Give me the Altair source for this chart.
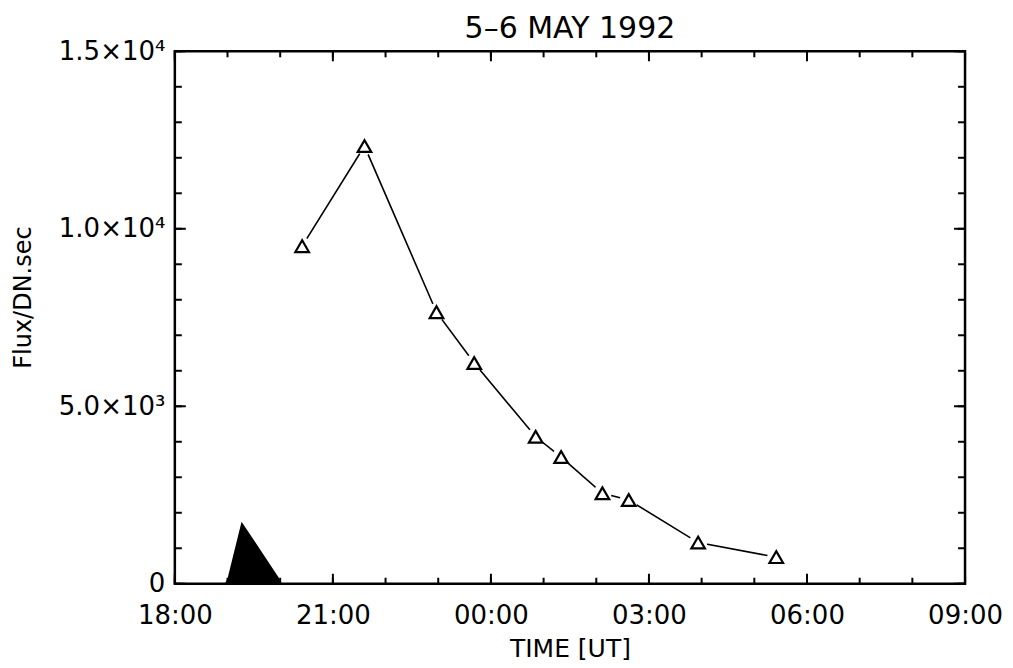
import altair as alt
import pandas as pd

# ---- data ----
obs_times = ["20:25", "21:36", "22:58", "23:41", "00:51", "01:20", "02:07", "02:37", "03:56", "05:25"]
obs_flux = [9510, 12330, 7650, 6220, 4140, 3570, 2550, 2360, 1160, 750]

burst_times = ["18:57", "19:00", "19:16", "19:59", "20:00"]
burst_flux = [0, 150, 1750, 150, 0]

x_tick_hours = [0, 3, 6, 9, 12, 15]
x_tick_labels = ["18:00", "21:00", "00:00", "03:00", "06:00", "09:00"]
x_minor_hours = list(range(0, 16))
y_tick_values = [0, 5000, 10000, 15000]
y_tick_labels = ["0", "5.0×10³", "1.0×10⁴", "1.5×10⁴"]
y_minor_values = list(range(0, 15001, 1000))


def hours_since_18(t):
    h, m = t.split(":")
    v = int(h) + int(m) / 60.0
    if v < 12:
        v += 24
    return v - 18


obs = pd.DataFrame({"t": [hours_since_18(t) for t in obs_times], "flux": obs_flux})
burst = pd.DataFrame({"t": [hours_since_18(t) for t in burst_times], "flux": burst_flux})
xmaj = pd.DataFrame({"t": x_tick_hours})
xmin = pd.DataFrame({"t": x_minor_hours})
ymaj = pd.DataFrame({"v": y_tick_values})
ymin = pd.DataFrame({"v": y_minor_values})

W, H = 791, 533
FONT = "DejaVu Sans"

x_label_expr = "[" + ",".join(f"'{s}'" for s in x_tick_labels) + "][round(datum.value/3)]"
y_label_expr = "{" + ",".join(f"'{v}':'{s}'" for v, s in zip(y_tick_values, y_tick_labels)) + "}[datum.value]"

xscale = alt.Scale(domain=[0, 15], nice=False, zero=False)
yscale = alt.Scale(domain=[0, 15000], nice=False)

xaxis = alt.Axis(values=x_tick_hours, labelExpr=x_label_expr, ticks=False, tickSize=0, domain=False,
                 grid=False, labelFont=FONT, labelFontSize=26, labelColor="black", labelPadding=19,
                 title="TIME [UT]", titleFont=FONT, titleFontSize=25, titleFontWeight="normal",
                 titleColor="black", titleY=53, titleBaseline="top", labelFlush=False)
yaxis = alt.Axis(values=y_tick_values, labelExpr=y_label_expr, ticks=False, tickSize=0, domain=False,
                 grid=False, labelFont=FONT, labelFontSize=26, labelColor="black", labelPadding=10,
                 labelBaseline="middle",
                 title="Flux/DN.sec", titleFont=FONT, titleFontSize=24, titleFontWeight="normal",
                 titleColor="black", titleAngle=-90, titleX=-151, titleY=246,
                 titleAlign="center", titleBaseline="middle", labelFlush=False)

area = alt.Chart(burst).mark_area(color="black", line=False, opacity=1).encode(
    x=alt.X("t:Q", scale=xscale, axis=xaxis),
    y=alt.Y("flux:Q", scale=yscale, axis=yaxis),
)

line = alt.Chart(obs).mark_line(color="black", strokeWidth=1.6).encode(
    x=alt.X("t:Q", scale=xscale), y=alt.Y("flux:Q", scale=yscale))
gaps = alt.Chart(obs).mark_point(shape="circle", filled=True, color="white", opacity=1, size=340).encode(
    x=alt.X("t:Q", scale=xscale), y=alt.Y("flux:Q", scale=yscale))
tri = alt.Chart(obs).mark_point(shape="triangle-up", filled=False, color="black", strokeWidth=2.2,
                                opacity=1, size=185).encode(
    x=alt.X("t:Q", scale=xscale), y=alt.Y("flux:Q", scale=yscale))


def xticks(df, length):
    top = alt.Chart(df).mark_rule(color="black", strokeWidth=2).encode(
        x=alt.X("t:Q", scale=xscale), y=alt.value(0), y2=alt.value(length))
    bot = alt.Chart(df).mark_rule(color="black", strokeWidth=2).encode(
        x=alt.X("t:Q", scale=xscale), y=alt.value(H), y2=alt.value(H - length))
    return [top, bot]


def yticks(df, length):
    left = alt.Chart(df).mark_rule(color="black", strokeWidth=2).encode(
        y=alt.Y("v:Q", scale=yscale), x=alt.value(0), x2=alt.value(length))
    right = alt.Chart(df).mark_rule(color="black", strokeWidth=2).encode(
        y=alt.Y("v:Q", scale=yscale), x=alt.value(W), x2=alt.value(W - length))
    return [left, right]


layers = [area, line, gaps, tri] + xticks(xmin, 6) + xticks(xmaj, 10) + yticks(ymin, 7) + yticks(ymaj, 11)

chart = alt.layer(*layers).properties(
    width=W, height=H,
    autosize=alt.AutoSizeParams(type="none"),
    padding={"left": 167, "top": 43, "right": 40, "bottom": 90},
    title=alt.TitleParams("5–6 MAY 1992", font=FONT, fontSize=30, fontWeight="normal",
                          color="black", anchor="middle", offset=-6),
).configure(background="white").configure_view(stroke="black", strokeWidth=2.5)

chart.save("out.html", embed_options={"renderer": "svg", "actions": False})
